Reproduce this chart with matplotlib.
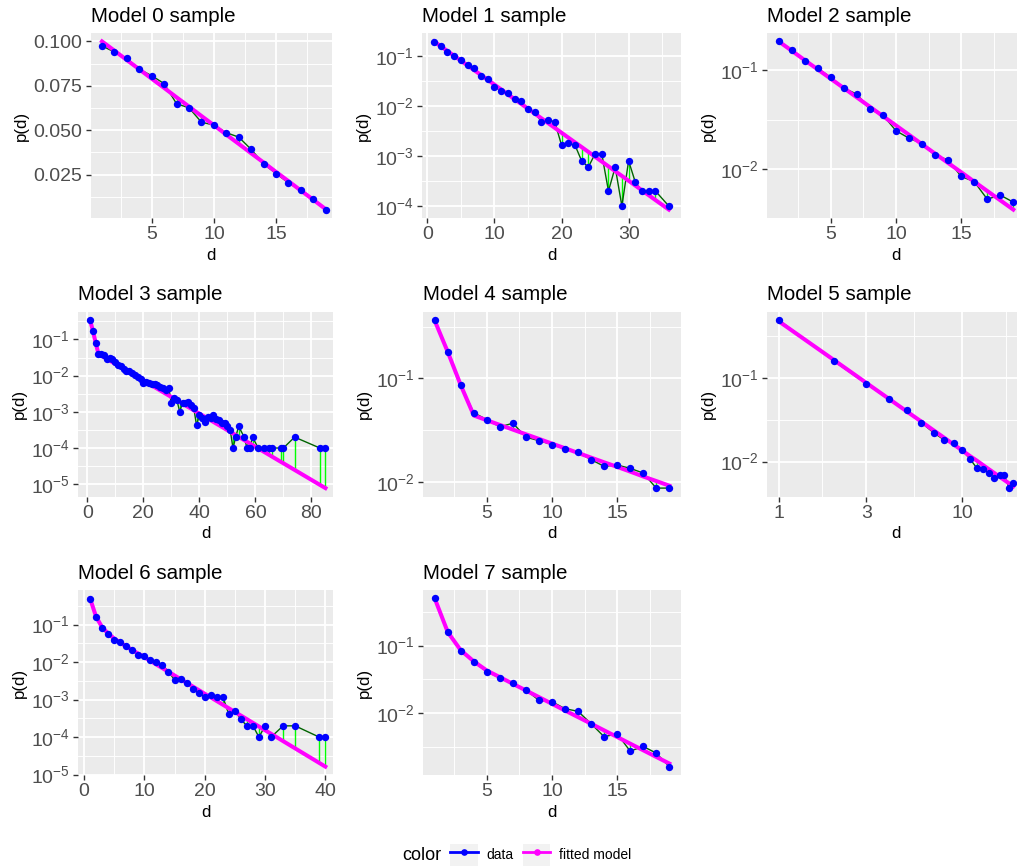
import numpy as np
import matplotlib
matplotlib.use("Agg")
import matplotlib.pyplot as plt
from matplotlib import ticker
from matplotlib.lines import Line2D
from matplotlib.patches import Rectangle

plt.rcParams["font.family"] = "Liberation Sans"
plt.rcParams["mathtext.fontset"] = "custom"
plt.rcParams["mathtext.rm"] = "Liberation Sans"
plt.rcParams["mathtext.it"] = "Liberation Sans:italic"
plt.rcParams["mathtext.bf"] = "Liberation Sans:bold"

d0 = list(range(1, 20))
p0 = [0.0975, 0.0940, 0.0904, 0.0843, 0.0807, 0.0762, 0.0649, 0.0626, 0.0545, 0.0529,
      0.0486, 0.0461, 0.0392, 0.0310, 0.0256, 0.0203, 0.0161, 0.0110, 0.0053]
f0 = [0.1000, 0.0948, 0.0895, 0.0843, 0.0790, 0.0738, 0.0685, 0.0633, 0.0580, 0.0528,
      0.0475, 0.0423, 0.0370, 0.0318, 0.0265, 0.0213, 0.0160, 0.0108, 0.0055]

d1 = list(range(1, 35)) + [36]
p1 = [0.192, 0.157, 0.122, 0.1016, 0.083, 0.0647, 0.0571, 0.040, 0.0342, 0.024,
      0.0202, 0.0178, 0.0137, 0.0127, 0.00857, 0.00749, 0.00484, 0.00532, 0.00477, 0.00166,
      0.00179, 0.00166, 0.0008, 0.0006, 0.00111, 0.0011, 0.0002, 0.0006, 0.0001, 0.0008,
      0.0003, 0.0002, 0.0002, 0.0002, 0.0001]
f1 = [0.195, 0.156, 0.125, 0.1005, 0.0805, 0.0646, 0.0518, 0.0415, 0.0333, 0.0267,
      0.0214, 0.0171, 0.0137, 0.0110, 0.00883, 0.00708, 0.00568, 0.00455, 0.00365, 0.00292,
      0.00234, 0.00188, 0.00151, 0.00121, 0.000968, 0.000776, 0.000622, 0.000499, 0.000400,
      0.000321, 0.000257, 0.000206, 0.000165, 0.000132, 0.0000851]

d2 = list(range(1, 20))
p2 = [0.195, 0.1615, 0.1247, 0.104, 0.0847, 0.0659, 0.0573, 0.0402, 0.0352, 0.0245,
      0.0206, 0.0182, 0.0138, 0.0125, 0.00848, 0.00753, 0.00501, 0.0055, 0.00467]
f2 = [0.195, 0.157, 0.126, 0.1017, 0.0818, 0.0659, 0.0531, 0.0427, 0.0344, 0.0277,
      0.0223, 0.0179, 0.0144, 0.0116, 0.00936, 0.00753, 0.00606, 0.00488, 0.00393]

d3 = list(range(1, 55)) + [56, 57, 58, 59, 61, 63, 65, 66, 69, 70, 74, 83, 85]
p3 = [0.343, 0.174, 0.0809, 0.0409, 0.0384, 0.0369, 0.0285, 0.0304, 0.029, 0.0235,
      0.0199, 0.0179, 0.0154, 0.0138, 0.0132, 0.0117, 0.0105, 0.00944, 0.00796, 0.00617,
      0.00658, 0.0064, 0.00591, 0.0058, 0.0055, 0.00499, 0.0045, 0.0040, 0.00468, 0.0018,
      0.0024, 0.0021, 0.0010, 0.0018, 0.0017, 0.0019, 0.0015, 0.0013, 0.00042, 0.00082,
      0.00068, 0.00052, 0.00070, 0.00068, 0.00082, 0.00062, 0.00058, 0.00050, 0.00050, 0.00041,
      0.00032, 0.0001, 0.0002, 0.0004, 0.0002, 0.0001, 0.0001, 0.0002, 0.0001, 0.0001,
      0.0001, 0.0001, 0.0001, 0.0001, 0.0002, 0.0001, 0.0001]
f3 = [0.347, 0.174, 0.0813, 0.0398, 0.0358, 0.0322, 0.0290, 0.0261, 0.0235, 0.0211,
      0.0190, 0.0171, 0.0154, 0.0139, 0.0125, 0.0112, 0.0101, 0.00910, 0.00818, 0.00736,
      0.00663, 0.00597, 0.00537, 0.00483, 0.00435, 0.00391, 0.00352, 0.00317, 0.00285, 0.00257,
      0.00231, 0.00208, 0.00187, 0.00168, 0.00151, 0.00136, 0.00123, 0.00110, 0.000993, 0.000894,
      0.000804, 0.000724, 0.000652, 0.000586, 0.000527, 0.000474, 0.000427, 0.000385, 0.000346, 0.000311,
      0.000280, 0.000252, 0.000227, 0.000204, 0.000165, 0.000149, 0.000134, 0.000120, 0.0000975, 0.0000790,
      0.0000640, 0.0000575, 0.0000419, 0.0000378, 0.0000248, 0.0000096, 0.0000078]

d4 = list(range(1, 20))
p4 = [0.366, 0.1795, 0.0856, 0.0467, 0.0402, 0.0342, 0.0371, 0.0272, 0.0252, 0.0231,
      0.0210, 0.0195, 0.01655, 0.01427, 0.0147, 0.01364, 0.0123, 0.00881, 0.00881]
f4 = [0.36, 0.18, 0.086, 0.044, 0.0396, 0.0357, 0.0322, 0.0290, 0.0262, 0.0236,
      0.0213, 0.0192, 0.0173, 0.0156, 0.0141, 0.0127, 0.0114, 0.0103, 0.00929]

d5 = list(range(1, 20))
p5 = [0.495, 0.159, 0.0855, 0.0553, 0.0411, 0.0292, 0.0221, 0.0181, 0.0165, 0.0136,
      0.01087, 0.0084, 0.00824, 0.0073, 0.00635, 0.0069, 0.0069, 0.00482, 0.00548]
f5 = [0.477, 0.164, 0.0875, 0.0561, 0.0397, 0.0300, 0.0236, 0.0192, 0.0160, 0.0136,
      0.0117, 0.0103, 0.00908, 0.00809, 0.00728, 0.00659, 0.00600, 0.00550, 0.00505]

d6 = list(range(1, 32)) + [33, 35, 39, 40]
p6 = [0.496, 0.160, 0.0832, 0.0574, 0.0388, 0.0336, 0.0268, 0.0210, 0.0157, 0.0142,
      0.01154, 0.0100, 0.00832, 0.00562, 0.00336, 0.0035, 0.00285, 0.00197, 0.00148, 0.00118,
      0.00133, 0.0012, 0.0012, 0.000405, 0.000507, 0.000297, 0.0002, 0.0002, 0.0001, 0.0002,
      0.0001, 0.0002, 0.0002, 0.0001, 0.0001]
f6 = [0.50, 0.162, 0.085, 0.058, 0.0425, 0.0331, 0.0263, 0.0209, 0.0168, 0.0135,
      0.0108, 0.00863, 0.00690, 0.00551, 0.00441, 0.00352, 0.00282, 0.00225, 0.00180, 0.00144,
      0.00115, 0.000920, 0.000735, 0.000588, 0.000470, 0.000376, 0.000301, 0.000240, 0.000192, 0.000153,
      0.000123, 0.0000784, 0.0000501, 0.0000205, 0.0000164]

d7 = list(range(1, 20))
p7 = [0.499, 0.158, 0.0843, 0.0565, 0.0411, 0.0331, 0.0279, 0.022, 0.0154, 0.0147,
      0.0116, 0.0106, 0.00695, 0.00446, 0.00493, 0.00273, 0.0032, 0.00255, 0.00161]
f7 = [0.499, 0.158, 0.085, 0.0582, 0.0426, 0.0340, 0.0271, 0.0216, 0.0172, 0.0137,
      0.0109, 0.00871, 0.00695, 0.00554, 0.00442, 0.00352, 0.00281, 0.00224, 0.00179]

# ---- layout ----
W, H = 1017, 867
fig = plt.figure(figsize=(W / 100, H / 100), dpi=100)

def px_axes(left, top, right, bottom):
    return fig.add_axes([left / W, 1 - bottom / H, (right - left) / W, (bottom - top) / H])

# panel, pixel box, x major step (None = log), y scale, xlim override
panels = [
    (d0, p0, f0, (90.8, 33, 331.5, 218), 5, "linear", (0.1, 19.46)),
    (d1, p1, f1, (422.3, 33, 680.6, 218), 10, "log", None),
    (d2, p2, f2, (767, 33, 1025, 218), 5, "log", None),
    (d3, p3, f3, (78.3, 311.5, 333, 496.5), 20, "log", (-3.2, 87.7)),
    (d4, p4, f4, (423, 311.5, 681, 496.5), 5, "log", None),
    (d5, p5, f5, (767, 311.5, 1025, 496.5), None, "log", None),
    (d6, p6, f6, (78.3, 590, 333, 775), 10, "log", (-0.95, 41.27)),
    (d7, p7, f7, (423, 590, 681, 775), 5, "log", None),
]

for i, (d, p, f, box, xstep, yscale, xlim) in enumerate(panels):
    ax = px_axes(*box)
    ax.set_facecolor("#EBEBEB")
    for s in ax.spines.values():
        s.set_visible(False)
    ax.set_yscale(yscale)
    if xstep is None:
        ax.set_xscale("log")

    ax.vlines(d, p, f, color="#00FF00", lw=1.0, zorder=2)
    ax.plot(d, p, color="#006400", lw=1.0, zorder=3)
    ax.plot(d, f, color="#FF00FF", lw=2.9, zorder=4)
    ax.plot(d, p, "o", color="#0000FF", ms=5.3, mec="none", zorder=5)

    if xlim is not None:
        ax.set_xlim(*xlim)

    # x ticks
    if xstep is None:
        ax.xaxis.set_major_locator(ticker.FixedLocator([1, 3, 10]))
        ax.xaxis.set_major_formatter(ticker.FormatStrFormatter("%g"))
        ax.xaxis.set_minor_locator(ticker.FixedLocator([np.sqrt(3), np.sqrt(30), np.sqrt(300)]))
        ax.xaxis.set_minor_formatter(ticker.NullFormatter())
    else:
        ax.xaxis.set_major_locator(ticker.MultipleLocator(xstep))
        ax.xaxis.set_minor_locator(ticker.MultipleLocator(xstep / 2))

    # y ticks
    if yscale == "linear":
        ax.yaxis.set_major_locator(ticker.MultipleLocator(0.025))
        ax.yaxis.set_minor_locator(ticker.MultipleLocator(0.0125))
        ax.yaxis.set_major_formatter(ticker.FormatStrFormatter("%.3f"))
    else:
        ax.yaxis.set_major_locator(ticker.LogLocator(base=10, numticks=12))
        ax.yaxis.set_major_formatter(ticker.LogFormatterSciNotation())
        ax.yaxis.set_minor_locator(ticker.FixedLocator(10.0 ** (np.arange(-8, 2) + 0.5)))
        ax.yaxis.set_minor_formatter(ticker.NullFormatter())

    ax.set_axisbelow(True)
    ax.grid(which="major", color="white", lw=1.3)
    ax.grid(which="minor", color="white", lw=0.65)
    ax.tick_params(which="major", length=3.6, width=1.0, color="#333333",
                   labelcolor="#4D4D4D", labelsize=14, pad=2.5)
    ax.tick_params(which="minor", length=0)

    ax.set_xlabel("d", fontsize=12.2, labelpad=3)
    ax.set_ylabel("p(d)", fontsize=12.2, labelpad=3)
    ax.set_title(f"Model {i} sample", loc="left", fontsize=14.8, pad=8)

# ---- shared legend ----
key_bg = "#F2F2F2"
h_data = (Rectangle((0, 0), 1, 1, facecolor=key_bg, edgecolor="none"),
          Line2D([], [], color="#0000FF", lw=2.0, marker="o", ms=4.8, mec="none"))
h_fit = (Rectangle((0, 0), 1, 1, facecolor=key_bg, edgecolor="none"),
         Line2D([], [], color="#FF00FF", lw=2.0, marker="o", ms=4.8, mec="none"))
fig.legend([h_data, h_fit], ["data", "fitted model"], ncol=2, loc="center left",
           bbox_to_anchor=(450 / W, 1 - 855 / H), frameon=False, fontsize=10,
           handlelength=2.0, handleheight=2.0, handletextpad=0.65,
           columnspacing=0.63, borderpad=0, borderaxespad=0)
fig.text(402.7 / W, 1 - 856 / H, "color", fontsize=13, va="center", ha="left")

fig.savefig("out.png", dpi=100, facecolor="white")
